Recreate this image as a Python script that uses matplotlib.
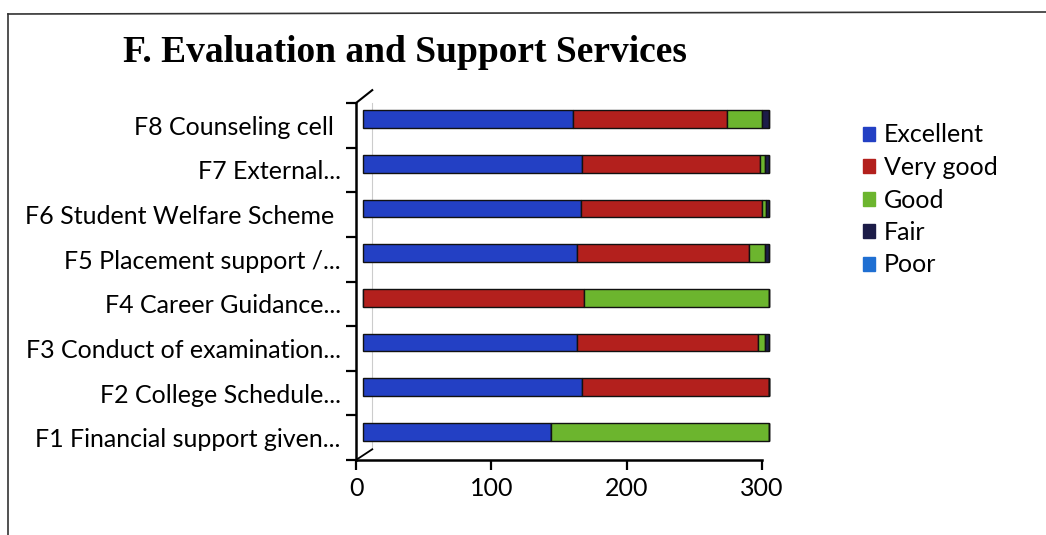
import matplotlib.pyplot as plt
import matplotlib.transforms as mtransforms
from matplotlib.lines import Line2D
import numpy as np

categories = [
    "F1 Financial support given...",
    "F2 College Schedule...",
    "F3 Conduct of examination...",
    "F4 Career Guidance...",
    "F5 Placement support /...",
    "F6 Student Welfare Scheme ",
    "F7 External...",
    "F8 Counseling cell ",
]
excellent = [139, 162, 158, 0, 158, 161, 162, 155]
very_good = [0, 138, 134, 163, 127, 134, 131, 114]
good = [161, 0, 5, 137, 12, 3, 4, 26]
fair = [0, 0, 3, 0, 3, 2, 3, 5]
poor = [0, 0, 0, 0, 0, 0, 0, 0]

series = [("Excellent", excellent, "#2340c4"),
          ("Very good", very_good, "#b3201d"),
          ("Good", good, "#6cb52e"),
          ("Fair", fair, "#1c1c48"),
          ("Poor", poor, "#1f6fd2")]

W, H = 1046, 535
fig = plt.figure(figsize=(W / 100, H / 100), dpi=100)
ax = fig.add_axes([356 / W, 1 - 460 / H, (762 - 356) / W, (460 - 103) / H])

# push the bars back a few pixels, like the 3D depth in the original
shift = mtransforms.ScaledTranslation(7 / 100, 6 / 100, fig.dpi_scale_trans)
y = np.arange(len(categories))
left = np.zeros(len(categories))
for name, vals, col in series:
    bars = ax.barh(y, vals, left=left, height=0.4, color=col, label=name,
                   edgecolor="#111111", linewidth=1.0, clip_on=False)
    for b in bars:
        b.set_transform(b.get_data_transform() + shift)
    left = left + np.array(vals)

ax.set_xlim(0, 300)
ax.set_ylim(-0.5, len(categories) - 0.5)
ax.set_xticks([0, 100, 200, 300])
ax.set_yticks(y)
ax.set_yticklabels(categories)
ax.set_yticks(np.arange(-0.5, len(categories)), minor=True)
ax.tick_params(axis="y", which="major", length=0, pad=11, labelsize=18)
ax.tick_params(axis="y", which="minor", length=7, width=1.6, direction="out")
ax.tick_params(axis="x", length=7, width=1.6, direction="out", labelsize=18, pad=5)
for lab in ax.get_yticklabels():
    lab.set_fontfamily("Lato")
    lab.set_va("center_baseline")
for lab in ax.get_xticklabels():
    lab.set_fontfamily("Lato")
for s in ["top", "right"]:
    ax.spines[s].set_visible(False)
ax.spines["left"].set_linewidth(1.8)
ax.spines["bottom"].set_linewidth(1.8)

# 3D corner strokes and back wall line
ax.add_line(Line2D([0, 0.04], [1.0, 1.036], transform=ax.transAxes,
                   color="black", lw=1.5, clip_on=False))
ax.add_line(Line2D([0, 0.04], [0.0, 0.03], transform=ax.transAxes,
                   color="black", lw=1.3, clip_on=False))
ax.add_line(Line2D([0.04, 0.04], [0.03, 1.0], transform=ax.transAxes,
                   color="#cccccc", lw=0.8, clip_on=False, zorder=0))

fig.text(123 / W, 1 - 52 / H, "F. Evaluation and Support Services",
         fontfamily="Liberation Serif", fontweight="bold", fontsize=27,
         va="center", ha="left")

handles = [plt.Rectangle((0, 0), 1, 1, color=c) for _, _, c in series]
fig.legend(handles, [s[0] for s in series], loc="upper left",
           bbox_to_anchor=(840 / W, 1 - 101 / H), frameon=False,
           prop={"family": "Lato", "size": 18}, handlelength=0.5,
           handleheight=0.5, handletextpad=0.35, labelspacing=0.38)

# page border of the scanned figure
fig.add_artist(Line2D([8 / W, 1], [1 - 14 / H, 1 - 12 / H], color="#333333", lw=1.2))
fig.add_artist(Line2D([8 / W, 8 / W], [1 - 14 / H, 0], color="#333333", lw=1.2))

fig.savefig("out.png", dpi=100)
